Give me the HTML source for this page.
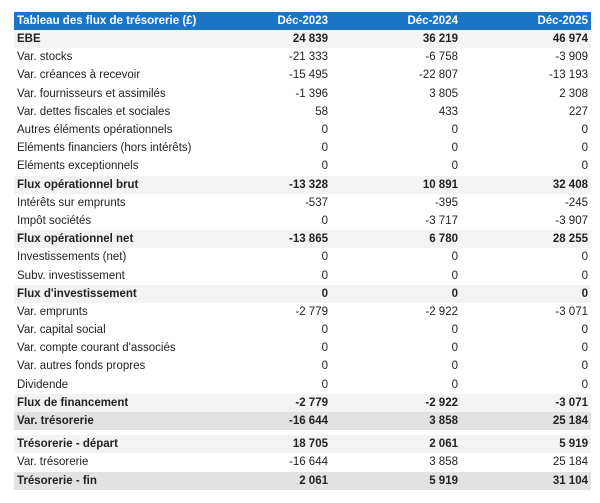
<!DOCTYPE html>
<html><head><meta charset="utf-8"><style>
body{margin:0;width:600px;height:503px;background:#fff;font-family:"Liberation Sans",sans-serif;font-size:11.5px;color:#222;}
table{position:absolute;left:14px;top:12px;width:577px;border-collapse:collapse;table-layout:fixed;}
td{height:18.2px;padding:0 3px;white-space:nowrap;line-height:18px;overflow:hidden;}
td.n{text-align:right;width:124px;}
tr.h td{background:#1b74c6;color:#fff;font-weight:bold;height:18px;}
tr.b td{font-weight:bold;background:#f3f3f3;}
tr.d td{font-weight:bold;background:#e2e2e2;}
tr.g td{height:5px;line-height:5px;font-size:1px;}
</style></head><body>
<table>
<tr class="h"><td>Tableau des flux de trésorerie (£)</td><td class="n">Déc-2023</td><td class="n">Déc-2024</td><td class="n">Déc-2025</td></tr>
<tr class="b"><td>EBE</td><td class="n">24 839</td><td class="n">36 219</td><td class="n">46 974</td></tr>
<tr><td>Var. stocks</td><td class="n">-21 333</td><td class="n">-6 758</td><td class="n">-3 909</td></tr>
<tr><td>Var. créances à recevoir</td><td class="n">-15 495</td><td class="n">-22 807</td><td class="n">-13 193</td></tr>
<tr><td>Var. fournisseurs et assimilés</td><td class="n">-1 396</td><td class="n">3 805</td><td class="n">2 308</td></tr>
<tr><td>Var. dettes fiscales et sociales</td><td class="n">58</td><td class="n">433</td><td class="n">227</td></tr>
<tr><td>Autres éléments opérationnels</td><td class="n">0</td><td class="n">0</td><td class="n">0</td></tr>
<tr><td>Eléments financiers (hors intérêts)</td><td class="n">0</td><td class="n">0</td><td class="n">0</td></tr>
<tr><td>Eléments exceptionnels</td><td class="n">0</td><td class="n">0</td><td class="n">0</td></tr>
<tr class="b"><td>Flux opérationnel brut</td><td class="n">-13 328</td><td class="n">10 891</td><td class="n">32 408</td></tr>
<tr><td>Intérêts sur emprunts</td><td class="n">-537</td><td class="n">-395</td><td class="n">-245</td></tr>
<tr><td>Impôt sociétés</td><td class="n">0</td><td class="n">-3 717</td><td class="n">-3 907</td></tr>
<tr class="b"><td>Flux opérationnel net</td><td class="n">-13 865</td><td class="n">6 780</td><td class="n">28 255</td></tr>
<tr><td>Investissements (net)</td><td class="n">0</td><td class="n">0</td><td class="n">0</td></tr>
<tr><td>Subv. investissement</td><td class="n">0</td><td class="n">0</td><td class="n">0</td></tr>
<tr class="b"><td>Flux d'investissement</td><td class="n">0</td><td class="n">0</td><td class="n">0</td></tr>
<tr><td>Var. emprunts</td><td class="n">-2 779</td><td class="n">-2 922</td><td class="n">-3 071</td></tr>
<tr><td>Var. capital social</td><td class="n">0</td><td class="n">0</td><td class="n">0</td></tr>
<tr><td>Var. compte courant d'associés</td><td class="n">0</td><td class="n">0</td><td class="n">0</td></tr>
<tr><td>Var. autres fonds propres</td><td class="n">0</td><td class="n">0</td><td class="n">0</td></tr>
<tr><td>Dividende</td><td class="n">0</td><td class="n">0</td><td class="n">0</td></tr>
<tr class="b"><td>Flux de financement</td><td class="n">-2 779</td><td class="n">-2 922</td><td class="n">-3 071</td></tr>
<tr class="d"><td>Var. trésorerie</td><td class="n">-16 644</td><td class="n">3 858</td><td class="n">25 184</td></tr>
<tr class="g"><td></td><td></td><td></td><td></td></tr>
<tr class="b"><td>Trésorerie - départ</td><td class="n">18 705</td><td class="n">2 061</td><td class="n">5 919</td></tr>
<tr><td>Var. trésorerie</td><td class="n">-16 644</td><td class="n">3 858</td><td class="n">25 184</td></tr>
<tr class="d"><td>Trésorerie - fin</td><td class="n">2 061</td><td class="n">5 919</td><td class="n">31 104</td></tr>
</table>
</body></html>
